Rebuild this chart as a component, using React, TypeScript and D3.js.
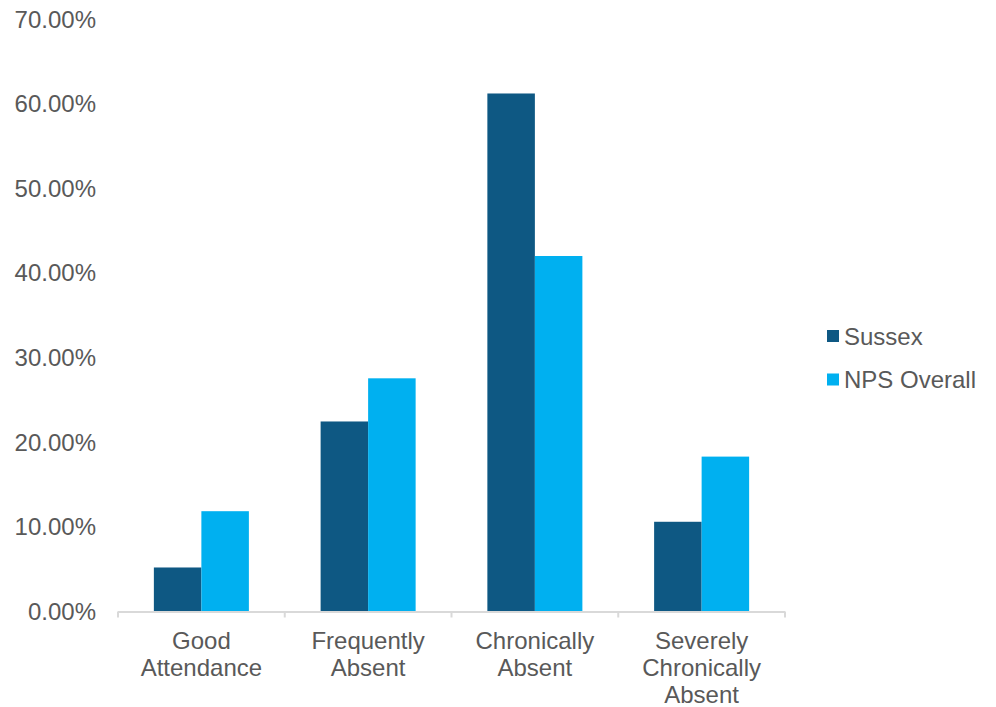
import React from "react";
import * as d3 from "d3";

const categories: string[][] = [
  ["Good", "Attendance"],
  ["Frequently", "Absent"],
  ["Chronically", "Absent"],
  ["Severely", "Chronically", "Absent"],
];
const seriesNames = ["Sussex", "NPS Overall"];
const sussexValues = [0.052, 0.2245, 0.612, 0.106];
const npsValues = [0.1185, 0.2755, 0.42, 0.183];
const yTicks = [0, 0.1, 0.2, 0.3, 0.4, 0.5, 0.6, 0.7];
const colors = ["#0E5883", "#00B0F0"];

const W = 996;
const H = 707;
const FONT = "Arial, 'Liberation Sans', sans-serif";
const FS = 24;
const TEXT = "#595959";

export default function App() {
  const catKeys = categories.map((c) => c.join(" "));
  const x0 = d3.scaleBand<string>().domain(catKeys).range([118, 785]).padding(0);
  const x1 = d3
    .scaleBand<string>()
    .domain(seriesNames)
    .range([0, x0.bandwidth()])
    .paddingInner(0)
    .paddingOuter(0.755);
  const y = d3.scaleLinear().domain([0, 0.7]).range([611.5, 19]);
  const fmt = (v: number) => (v * 100).toFixed(2) + "%";
  const series = [sussexValues, npsValues];
  const [r0, r1] = x0.range();

  return (
    <svg width={W} height={H} style={{ position: "absolute", left: 0, top: 0 }}>
      <rect width={W} height={H} fill="#fff" />
      {yTicks.map((t) => (
        <text
          key={t}
          x={96}
          y={y(t)}
          textAnchor="end"
          dominantBaseline="central"
          fontFamily={FONT}
          fontSize={FS}
          fill={TEXT}
        >
          {fmt(t)}
        </text>
      ))}
      {catKeys.map((k, i) =>
        series.map((vals, s) => (
          <rect
            key={k + s}
            x={(x0(k) as number) + (x1(seriesNames[s]) as number)}
            y={y(vals[i])}
            width={x1.bandwidth()}
            height={y(0) - y(vals[i])}
            fill={colors[s]}
          />
        ))
      )}
      <line x1={r0} x2={r1} y1={y(0) + 0.5} y2={y(0) + 0.5} stroke="#D9D9D9" strokeWidth={2} />
      {[...catKeys.map((k) => x0(k) as number), r1].map((xv, i) => (
        <line key={i} x1={xv} x2={xv} y1={y(0)} y2={y(0) + 6} stroke="#D9D9D9" strokeWidth={2} />
      ))}
      {categories.map((lines, i) => (
        <text
          key={i}
          x={(x0(catKeys[i]) as number) + x0.bandwidth() / 2}
          textAnchor="middle"
          fontFamily={FONT}
          fontSize={FS}
          fill={TEXT}
        >
          {lines.map((ln, j) => (
            <tspan key={j} x={(x0(catKeys[i]) as number) + x0.bandwidth() / 2} y={640 + j * 27} dominantBaseline="central">
              {ln}
            </tspan>
          ))}
        </text>
      ))}
      {seriesNames.map((n, i) => (
        <g key={n} transform={`translate(827, ${336 + i * 43.5})`}>
          <rect x={0} y={-6} width={12} height={12} fill={colors[i]} />
          <text x={17} y={0} dominantBaseline="central" fontFamily={FONT} fontSize={FS} fill={TEXT}>
            {n}
          </text>
        </g>
      ))}
    </svg>
  );
}
